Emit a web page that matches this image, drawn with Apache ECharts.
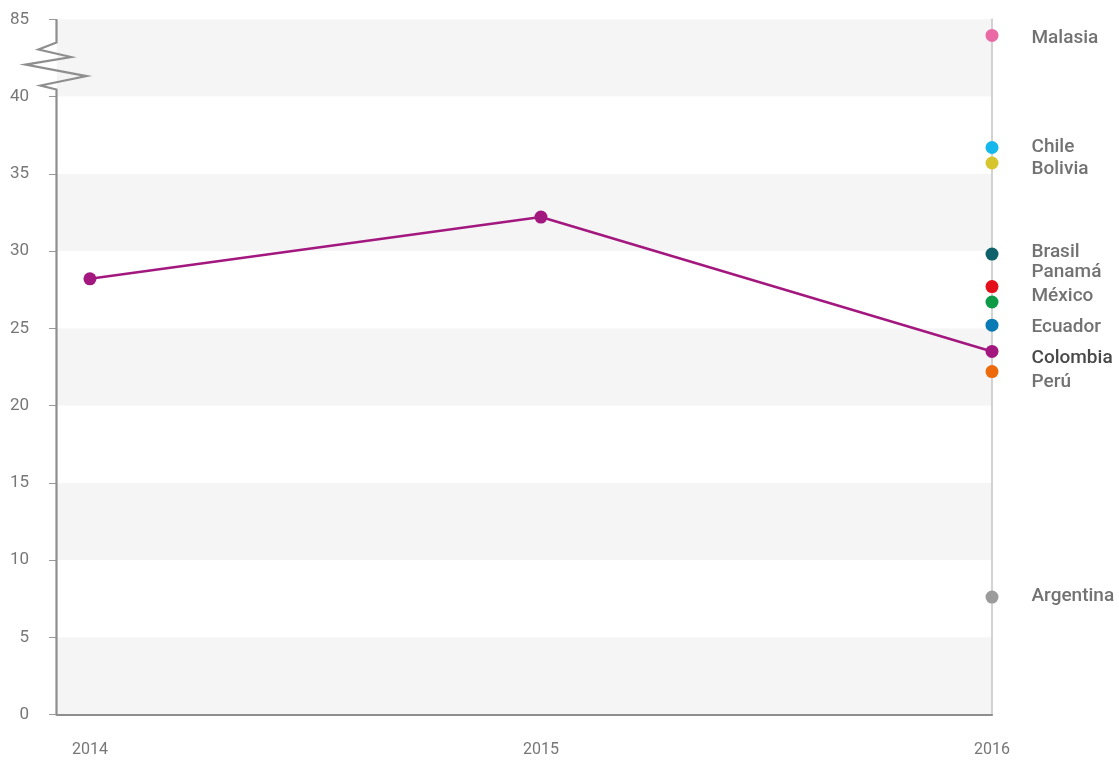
<!DOCTYPE html>
<html>
<head>
<meta charset="utf-8">
<script src="https://cdn.jsdelivr.net/npm/echarts@6/dist/echarts.min.js"></script>
<style>
  html, body { margin: 0; padding: 0; background: #ffffff; }
  #chart { width: 1119px; height: 761px; }
</style>
</head>
<body>
<div id="chart"></div>
<script>
// Colombia's series over three years
const years = [2014, 2015, 2016];
const colombiaValues = [28.2, 32.2, 23.5];

// 2016 values for the other countries
const countries = ['Malasia', 'Chile', 'Bolivia', 'Brasil', 'Panamá', 'México', 'Ecuador', 'Perú', 'Argentina'];
const values2016 = [75.6, 36.7, 35.7, 29.8, 27.7, 26.7, 25.2, 22.2, 7.6];

// Y axis tick labels (the last one sits above the axis break)
const yTickLabels = ['0', '5', '10', '15', '20', '25', '30', '35', '40', '85'];

// Styling
const countryColors = {
  'Malasia': '#ea6aa5', 'Chile': '#14b8ec', 'Bolivia': '#d6c52c', 'Brasil': '#0f616c',
  'Panamá': '#e3101c', 'México': '#0b9a45', 'Ecuador': '#0a7ab4', 'Perú': '#ec6a0c',
  'Argentina': '#9b9b9b', 'Colombia': '#a3187f'
};
// vertical nudges that keep crowded labels apart
const labelShift = {
  'Malasia': 3, 'Chile': 0, 'Bolivia': 6, 'Brasil': -2, 'Panamá': -14, 'México': -6,
  'Ecuador': 2, 'Perú': 11, 'Argentina': -1, 'Colombia': 7
};

// Axis break: 40..85 is compressed into one 5-unit band on top of the axis
const BREAK_LOW = 40, BREAK_HIGH = 85, STEP = 5;
function toAxis(v) {
  return v <= BREAK_LOW ? v : BREAK_LOW + (v - BREAK_LOW) * STEP / (BREAK_HIGH - BREAK_LOW);
}
const AXIS_TOP = BREAK_LOW + STEP;
const X_MIN = 2013.927, X_MAX = 2016;

const FONT = 'Roboto, "DejaVu Sans", sans-serif';
const AXIS_GRAY = '#8e8e8e';

const chart = echarts.init(document.getElementById('chart'), null, { renderer: 'canvas' });

const countryLabel = (name, color) => ({
  show: true, position: 'right', distance: 33, formatter: '{b}',
  color: color, fontSize: 19, fontWeight: 500, fontFamily: FONT
});

const scatterData = countries.map((c, i) => ({
  name: c,
  value: [2016, toAxis(values2016[i])],
  itemStyle: { color: countryColors[c], opacity: 1 },
  label: countryLabel(c, '#727272')
}));

const colombiaData = years.map((y, i) => {
  const d = { name: 'Colombia', value: [y, toAxis(colombiaValues[i])] };
  if (i === years.length - 1) d.label = countryLabel('Colombia', '#484848');
  return d;
});

chart.setOption({
  animation: false,
  grid: { left: 57, right: 127, top: 19.3, bottom: 46.5 },
  xAxis: {
    type: 'value', min: X_MIN, max: X_MAX,
    axisLine: { show: true, lineStyle: { color: AXIS_GRAY, width: 2 } },
    axisTick: { show: false },
    splitLine: { show: false },
    axisLabel: {
      customValues: years, formatter: v => String(v),
      color: '#777777', fontSize: 16, fontFamily: FONT, margin: 27
    }
  },
  yAxis: [{
    type: 'value', min: 0, max: AXIS_TOP, interval: STEP,
    axisLine: { show: false },
    axisTick: { show: true, length: 8, lineStyle: { color: '#9a9a9a', width: 1 } },
    splitLine: { show: false },
    splitArea: { show: true, areaStyle: { color: ['#f5f5f5', '#ffffff'] } },
    axisLabel: {
      formatter: v => yTickLabels[Math.round(v / STEP)],
      color: '#777777', fontSize: 17, fontFamily: FONT, margin: 28
    }
  }, {
    type: 'value', min: 0, max: AXIS_TOP, position: 'right',
    axisLine: { show: true, lineStyle: { color: '#c4c4c4', width: 1.5 } },
    axisTick: { show: false }, axisLabel: { show: false }, splitLine: { show: false }
  }],
  series: [{
    type: 'scatter', name: 'Países', data: scatterData,
    symbolSize: 13, z: 3,
    itemStyle: { opacity: 1 },
    labelLayout: p => ({ dy: labelShift[countries[p.dataIndex]] })
  }, {
    type: 'line', name: 'Colombia', data: colombiaData,
    symbol: 'circle', symbolSize: 13, showSymbol: true, z: 4,
    lineStyle: { color: countryColors['Colombia'], width: 2.5 },
    itemStyle: { color: countryColors['Colombia'], opacity: 1 },
    label: { show: false },
    labelLayout: p => (p.dataIndex === years.length - 1 ? { dy: labelShift['Colombia'] } : {})
  }]
});

// Vertical axis line with a zigzag break between 40 and 85
function drawAxisWithBreak() {
  const x = chart.convertToPixel({ gridIndex: 0 }, [X_MIN, 0])[0] - 0.5;
  const y0 = chart.convertToPixel({ gridIndex: 0 }, [X_MIN, 0])[1];
  const yLow = chart.convertToPixel({ gridIndex: 0 }, [X_MIN, BREAK_LOW])[1];
  const yTop = chart.convertToPixel({ gridIndex: 0 }, [X_MIN, AXIS_TOP])[1];
  const zig = [[0, -7], [-16, -11], [30, -20.5], [-31, -32], [14.5, -39.5], [-18, -47], [0, -54]];
  const pts = [[x, y0 + 1], [x, yLow]];
  zig.forEach(([dx, dy]) => pts.push([x + dx, yLow + dy]));
  pts.push([x, yTop]);
  chart.setOption({
    graphic: [{
      type: 'polyline', z: 10, silent: true,
      shape: { points: pts },
      style: { stroke: AXIS_GRAY, lineWidth: 2.2, fill: null, lineJoin: 'miter' }
    }]
  });
}
drawAxisWithBreak();
</script>
</body>
</html>
